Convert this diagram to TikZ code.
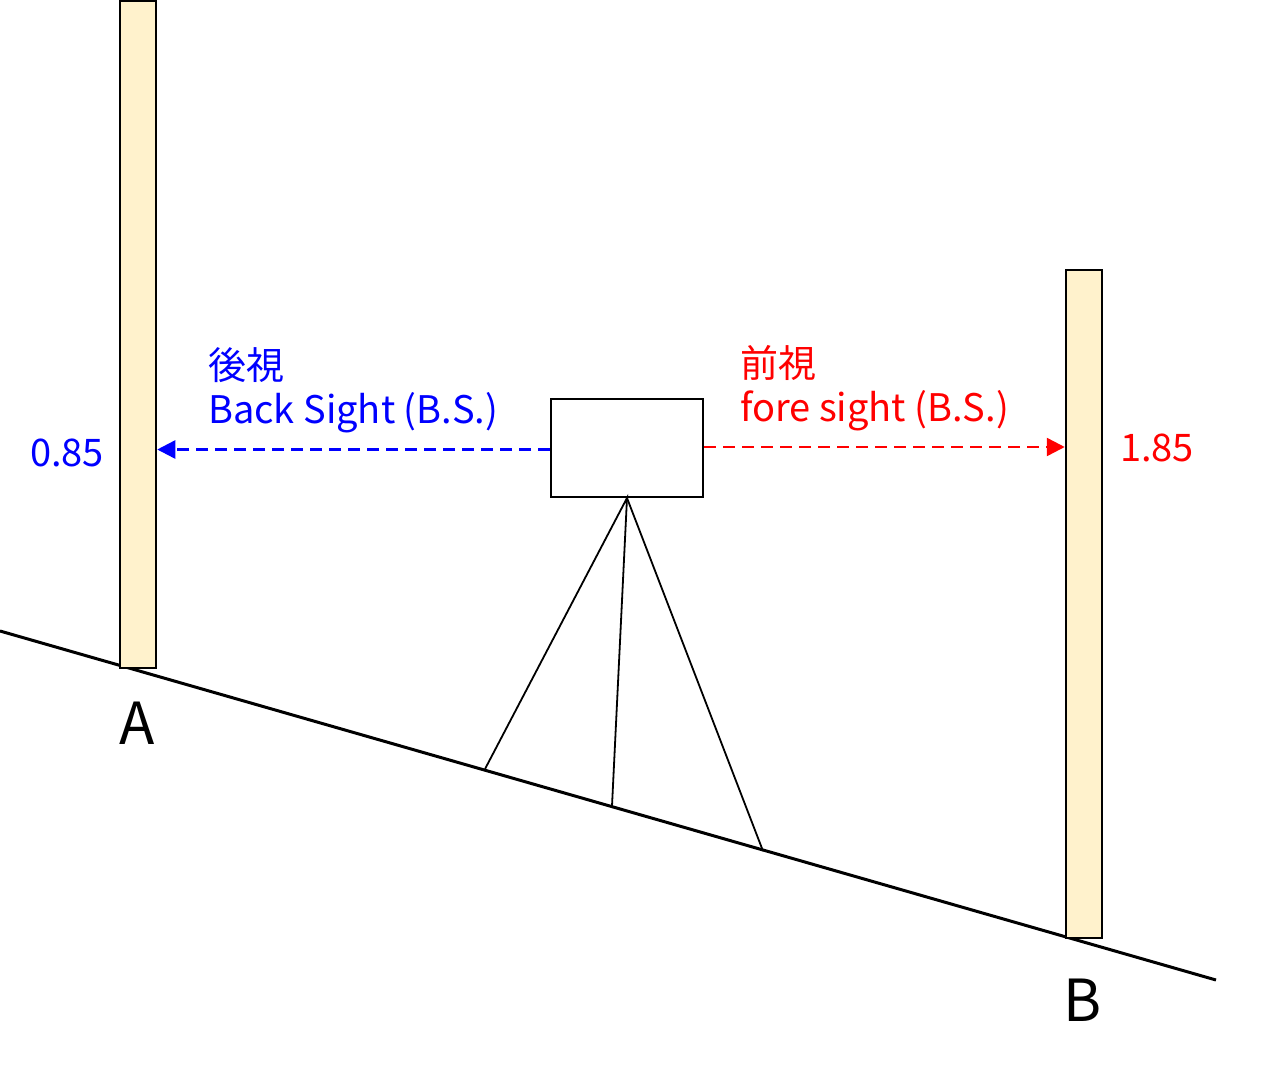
\documentclass[tikz,border=0pt]{standalone}
\usepackage{fontspec}
\setmainfont{Noto Sans CJK JP}
\usetikzlibrary{arrows.meta, calc, positioning}

\tikzset{
    staff/.style={draw=black, fill=staffyellow, line width=2.5pt},
    sight/.style={dashed, dash pattern=on 12pt off 7pt, line width=2.5pt,
        -{Triangle[length=18pt,width=18pt]}},
    leg/.style={line width=1.8pt},
    lbl/.style={anchor=base west, inner sep=0pt, font=\fontsize{38}{42}\selectfont},
    pt/.style={anchor=base, inner sep=0pt, font=\fontsize{58}{62}\selectfont}
}
\definecolor{staffyellow}{HTML}{FFF2CC}

\begin{document}
\begin{tikzpicture}[x=1pt, y=-1pt]
                    \useasboundingbox (0, 0) rectangle (1262, 1074);

                    % ground and staffs
                    \coordinate (G1) at (0, 631);
                    \coordinate (G2) at (1216, 980);
                    \draw [line width=3pt] (G1) -- (G2);
                    \node [staff, minimum width=36pt, minimum height=667pt, inner sep=0pt] (SA) at (138, 334.5) {};
                    \node [staff, minimum width=36pt, minimum height=668pt, inner sep=0pt] (SB) at (1084, 604) {};

                    % level and tripod
                    \node [draw, line width=2pt, minimum width=152pt, minimum height=98pt, inner sep=0pt] (Lv) at (627, 448) {};
                    \coordinate (L1) at (485, 769);
                    \coordinate (L2) at (612, 806);
                    \coordinate (L3) at (763, 851);
                    \draw [leg] (L1) -- (Lv.south) -- (L2);
                    \draw [leg] (Lv.south) -- (L3);

                    % sights
                    \draw [sight, blue] (Lv.west |- 0, 449.5) -- (SA.east |- 0, 449.5);
                    \draw [sight, red] (Lv.east |- 0, 447) -- (SB.west |- 0, 447);

                    \node [lbl, blue] (Jb) at (208, 379) { 後視 };
                    \node [lbl, blue] (Eb) at (208, 423) { Back Sight (B.S.) };
                    \node [lbl, red] (Jf) at (740, 377) { 前視 };
                    \node [lbl, red] (Ef) at (740, 421) { fore sight (B.S.) };
                    \node [lbl, blue] (Vb) at (30, 466) { 0.85 };
                    \node [lbl, red] (Vf) at (1120, 461) { 1.85 };

                    \node [pt] (Na) at (137, 744) { A };
                    \node [pt] (Nb) at (1083, 1021) { B };
            \end{tikzpicture}
\end{document}
